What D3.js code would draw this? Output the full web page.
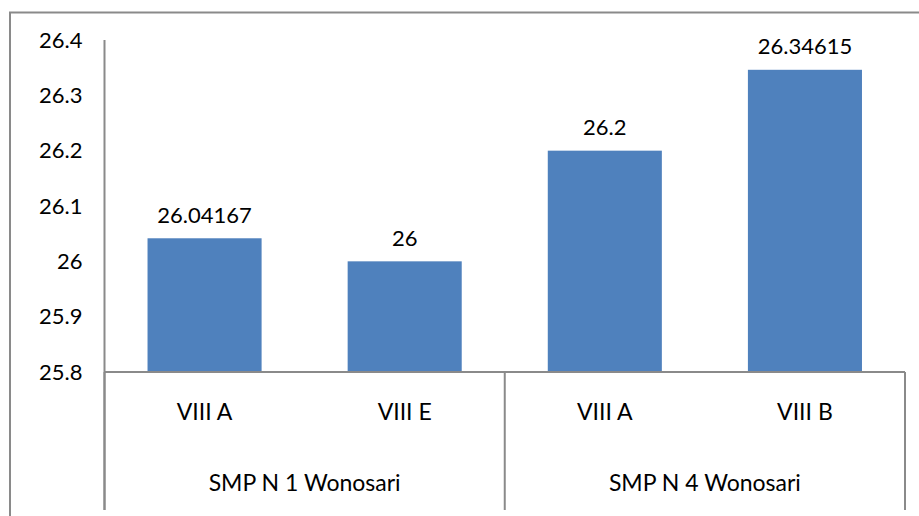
<!DOCTYPE html>
<html><head><meta charset="utf-8">
<script src="https://cdn.jsdelivr.net/npm/d3@7"></script>
<style>body{margin:0;background:#fff}svg{display:block}text{font-family:Lato,"Open Sans",sans-serif;fill:#000}</style>
</head><body>
<svg id="c" width="919" height="516"></svg>
<script>
const categories = ["VIII A","VIII E","VIII A","VIII B"];
const groupNames = ["SMP N 1 Wonosari","SMP N 4 Wonosari"];
const values = [26.04167, 26, 26.2, 26.34615];
const valueLabels = ["26.04167","26","26.2","26.34615"];
const yTicks = [25.8, 25.9, 26, 26.1, 26.2, 26.3, 26.4];

(function(){
const svg = d3.select("#c");
const pl = 104.5, pr = 905, pt = 40, pb = 372, base = 510;
const gray = "#8a8a8a";

svg.append("path").attr("d","M10,1000 V12.5 H1000").attr("fill","none").attr("stroke",gray).attr("stroke-width",2);

const x = d3.scaleBand().domain(d3.range(categories.length)).range([pl,pr]).paddingInner(0.43).paddingOuter(0.215);
const y = d3.scaleLinear().domain([25.8,26.4]).range([pb,pt]);

svg.selectAll("rect.bar").data(values).join("rect").attr("class","bar")
  .attr("x",(d,i)=>x(i)).attr("width",x.bandwidth())
  .attr("y",d=>y(d)).attr("height",d=>y(25.8)-y(d)).attr("fill","#4F81BD");

svg.selectAll("text.vl").data(values).join("text").attr("class","vl")
  .attr("x",(d,i)=>x(i)+x.bandwidth()/2).attr("y",d=>y(d)-24)
  .attr("text-anchor","middle").attr("dominant-baseline","central").attr("font-size",22)
  .text((d,i)=>valueLabels[i]);

const ya = d3.axisLeft(y).tickValues(yTicks).tickSize(0).tickPadding(22).tickFormat(d3.format("~g"));
const g = svg.append("g").attr("transform",`translate(${pl},0)`).call(ya);
g.select(".domain").remove();
g.selectAll("text").attr("font-size",22).attr("fill","#000").style("font-family","Lato,'Open Sans',sans-serif");
svg.append("line").attr("x1",pl).attr("x2",pl).attr("y1",pt).attr("y2",base).attr("stroke",gray).attr("stroke-width",2);

svg.append("line").attr("x1",pl).attr("x2",pr).attr("y1",pb).attr("y2",pb).attr("stroke",gray).attr("stroke-width",2);
const step = (pr-pl)/categories.length;
[0,2,4].forEach(k=>{
  const xx = pl + k*step;
  svg.append("line").attr("x1",xx).attr("x2",xx).attr("y1",pb).attr("y2",base).attr("stroke",gray).attr("stroke-width",2);
});
svg.selectAll("text.cat").data(categories).join("text").attr("class","cat")
  .attr("x",(d,i)=>pl+(i+0.5)*step).attr("y",411).attr("text-anchor","middle")
  .attr("dominant-baseline","central").attr("font-size",23).text(d=>d);
svg.selectAll("text.grp").data(groupNames).join("text").attr("class","grp")
  .attr("x",(d,i)=>pl+(i*2+1)*step).attr("y",482).attr("text-anchor","middle")
  .attr("dominant-baseline","central").attr("font-size",23).text(d=>d);
})();
</script>
</body></html>
